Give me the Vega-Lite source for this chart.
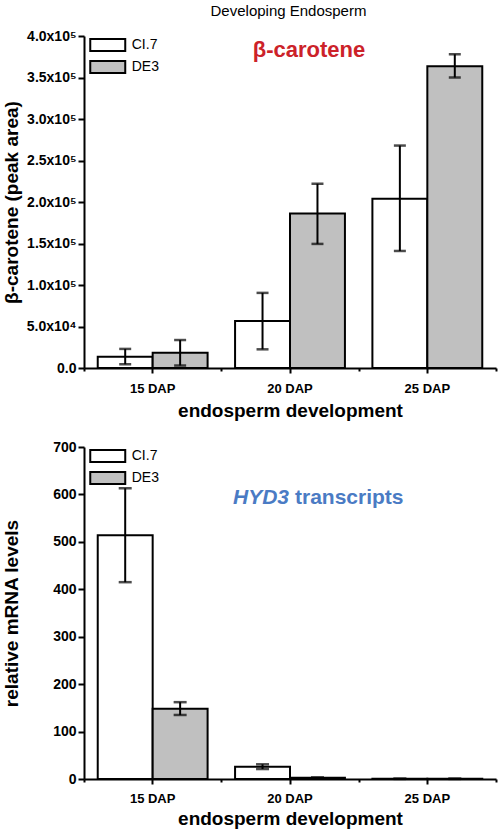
{
  "$schema": "https://vega.github.io/schema/vega-lite/v6.json",
  "background": "white",
  "padding": {"left": 2, "top": 4, "right": 2, "bottom": 2},
  "title": {"text": "Developing Endosperm", "font": "Liberation Sans", "fontSize": 15, "fontWeight": "normal", "color": "black", "anchor": "middle", "offset": 10, "dx": 39},
  "config": {
    "view": {"stroke": null},
    "font": "Liberation Sans",
    "axis": {"domainColor": "black", "domainWidth": 2, "tickColor": "black", "tickWidth": 2, "labelFont": "Liberation Sans", "labelFontWeight": "bold", "labelFontSize": 13, "labelColor": "black", "titleFont": "Liberation Sans", "titleFontWeight": "bold", "titleColor": "black", "grid": false}
  },
  "spacing": 20,
  "resolve": {"scale": {"fill": "independent", "y": "independent"}, "legend": {"fill": "independent"}},
  "vconcat": [
    {
      "width": 412, "height": 332,
      "data": {"values": [
        {"stage": "15 DAP", "line": "CI.7", "value": 13500, "lo": 4500, "hi": 23000},
        {"stage": "15 DAP", "line": "DE3", "value": 18500, "lo": 3000, "hi": 33700},
        {"stage": "20 DAP", "line": "CI.7", "value": 56500, "lo": 22500, "hi": 90500},
        {"stage": "20 DAP", "line": "DE3", "value": 186000, "lo": 149500, "hi": 222000},
        {"stage": "25 DAP", "line": "CI.7", "value": 204000, "lo": 141000, "hi": 268000},
        {"stage": "25 DAP", "line": "DE3", "value": 363500, "lo": 350000, "hi": 378000}
      ]},
      "resolve": {"axis": {"x": "independent"}},
      "layer": [
        {
          "mark": {"type": "bar", "stroke": "black", "strokeWidth": 2},
          "encoding": {
            "x": {"field": "stage", "type": "nominal", "scale": {"domain": ["15 DAP", "20 DAP", "25 DAP"], "paddingInner": 0, "paddingOuter": 0},
                  "axis": {"labelAngle": 0, "tickSize": 5, "labelPadding": 9, "title": "endosperm development", "titleFontSize": 19, "titlePadding": 6}},
            "xOffset": {"field": "line", "type": "nominal", "scale": {"domain": ["CI.7", "DE3"], "paddingInner": 0, "paddingOuter": 0.25}},
            "y": {"field": "value", "type": "quantitative", "scale": {"domain": [0, 400000], "nice": false},
                  "axis": {"title": "β-carotene (peak area)", "titleFontSize": 19, "titleX": -73, "titleBaseline": "middle", "labelFontSize": 14,
                           "values": [0, 25000, 50000, 75000, 100000, 125000, 150000, 175000, 200000, 225000, 250000, 275000, 300000, 325000, 350000, 375000, 400000],
                           "labelExpr": "datum.value % 50000 !== 0 ? '' : datum.value === 0 ? '0.0' : datum.value < 100000 ? format(datum.value / 10000, '.1f') + 'x10⁴' : format(datum.value / 100000, '.1f') + 'x10⁵'",
                           "tickSize": {"condition": {"test": "datum.value % 50000 === 0", "value": 6}, "value": 3},
                           "labelPadding": 2}},
            "fill": {"field": "line", "type": "nominal", "scale": {"domain": ["CI.7", "DE3"], "range": ["white", "#c0c0c0"]},
                     "legend": {"title": null, "orient": "none", "legendX": 13.75, "legendY": -1, "padding": 0,
                                "symbolType": "M-2,-0.7H2V0.7H-2Z", "symbolSize": 306, "symbolStrokeColor": "black", "symbolStrokeWidth": 2,
                                "labelOffset": 14, "rowPadding": 0, "labelFont": "Liberation Sans", "labelFontSize": 14, "labelColor": "black"}}
          }
        },
        {
          "mark": {"type": "rule", "color": "black", "strokeWidth": 2},
          "encoding": {
            "x": {"field": "stage", "type": "nominal", "axis": {"tickBand": "extent", "labels": false, "domain": false, "title": null, "tickSize": 3, "orient": "bottom"}},
            "xOffset": {"field": "line", "type": "nominal"},
            "y": {"field": "lo", "type": "quantitative"},
            "y2": {"field": "hi"}
          }
        },
        {
          "mark": {"type": "tick", "color": "black", "size": 12, "thickness": 2.5, "orient": "horizontal"},
          "encoding": {
            "x": {"field": "stage", "type": "nominal", "axis": null},
            "xOffset": {"field": "line", "type": "nominal"},
            "y": {"field": "lo", "type": "quantitative"}
          }
        },
        {
          "mark": {"type": "tick", "color": "black", "size": 12, "thickness": 2.5, "orient": "horizontal"},
          "encoding": {
            "x": {"field": "stage", "type": "nominal", "axis": null},
            "xOffset": {"field": "line", "type": "nominal"},
            "y": {"field": "hi", "type": "quantitative"}
          }
        },
        {
          "data": {"values": [{"label": "β-carotene"}]},
          "mark": {"type": "text", "color": "#cc2229", "font": "Liberation Sans", "fontWeight": "bold", "fontSize": 22, "align": "center", "baseline": "alphabetic", "dx": 19},
          "encoding": {
            "x": {"datum": "20 DAP", "type": "nominal", "axis": null},
            "y": {"datum": 375000, "type": "quantitative"},
            "text": {"field": "label"}
          }
        }
      ]
    },
    {
      "width": 412, "height": 332,
      "data": {"values": [
        {"stage": "15 DAP", "line": "CI.7", "value": 514, "lo": 415, "hi": 613},
        {"stage": "15 DAP", "line": "DE3", "value": 148, "lo": 135, "hi": 162},
        {"stage": "20 DAP", "line": "CI.7", "value": 26, "lo": 21, "hi": 31},
        {"stage": "20 DAP", "line": "DE3", "value": 2.5, "lo": 1.5, "hi": 3.5},
        {"stage": "25 DAP", "line": "CI.7", "value": 0.4, "lo": 0.4, "hi": 0.4},
        {"stage": "25 DAP", "line": "DE3", "value": 0.4, "lo": 0.4, "hi": 0.4}
      ]},
      "resolve": {"axis": {"x": "independent"}},
      "layer": [
        {
          "mark": {"type": "bar", "stroke": "black", "strokeWidth": 2},
          "encoding": {
            "x": {"field": "stage", "type": "nominal", "scale": {"domain": ["15 DAP", "20 DAP", "25 DAP"], "paddingInner": 0, "paddingOuter": 0},
                  "axis": {"labelAngle": 0, "tickSize": 5, "labelPadding": 8, "title": "endosperm development", "titleFontSize": 19, "titlePadding": 4}},
            "xOffset": {"field": "line", "type": "nominal", "scale": {"domain": ["CI.7", "DE3"], "paddingInner": 0, "paddingOuter": 0.25}},
            "y": {"field": "value", "type": "quantitative", "scale": {"domain": [0, 700], "nice": false},
                  "axis": {"title": "relative mRNA levels", "titleFontSize": 19, "titleX": -73, "titleBaseline": "middle", "labelFontSize": 14,
                           "values": [0, 50, 100, 150, 200, 250, 300, 350, 400, 450, 500, 550, 600, 650, 700],
                           "labelExpr": "datum.value % 100 !== 0 ? '' : format(datum.value, 'd')",
                           "tickSize": {"condition": {"test": "datum.value % 100 === 0", "value": 6}, "value": 3},
                           "labelPadding": 2}},
            "fill": {"field": "line", "type": "nominal", "scale": {"domain": ["CI.7", "DE3"], "range": ["white", "#c0c0c0"]},
                     "legend": {"title": null, "orient": "none", "legendX": 13.75, "legendY": -1, "padding": 0,
                                "symbolType": "M-2,-0.7H2V0.7H-2Z", "symbolSize": 306, "symbolStrokeColor": "black", "symbolStrokeWidth": 2,
                                "labelOffset": 14, "rowPadding": 0, "labelFont": "Liberation Sans", "labelFontSize": 14, "labelColor": "black"}}
          }
        },
        {
          "mark": {"type": "rule", "color": "black", "strokeWidth": 2},
          "encoding": {
            "x": {"field": "stage", "type": "nominal", "axis": {"tickBand": "extent", "labels": false, "domain": false, "title": null, "tickSize": 3, "orient": "bottom"}},
            "xOffset": {"field": "line", "type": "nominal"},
            "y": {"field": "lo", "type": "quantitative"},
            "y2": {"field": "hi"}
          }
        },
        {
          "mark": {"type": "tick", "color": "black", "size": 13, "thickness": 2.5, "orient": "horizontal"},
          "encoding": {
            "x": {"field": "stage", "type": "nominal", "axis": null},
            "xOffset": {"field": "line", "type": "nominal"},
            "y": {"field": "lo", "type": "quantitative"}
          }
        },
        {
          "mark": {"type": "tick", "color": "black", "size": 13, "thickness": 2.5, "orient": "horizontal"},
          "encoding": {
            "x": {"field": "stage", "type": "nominal", "axis": null},
            "xOffset": {"field": "line", "type": "nominal"},
            "y": {"field": "hi", "type": "quantitative"}
          }
        },
        {
          "data": {"values": [{"label": "HYD3"}]},
          "mark": {"type": "text", "color": "#4a7bc4", "font": "Liberation Sans", "fontWeight": "bold", "fontStyle": "italic", "fontSize": 21, "align": "right", "baseline": "alphabetic", "dx": -1},
          "encoding": {
            "x": {"datum": "20 DAP", "type": "nominal", "axis": null},
            "y": {"datum": 580, "type": "quantitative"},
            "text": {"field": "label"}
          }
        },
        {
          "data": {"values": [{"label": "transcripts"}]},
          "mark": {"type": "text", "color": "#4a7bc4", "font": "Liberation Sans", "fontWeight": "bold", "fontSize": 21, "align": "left", "baseline": "alphabetic", "dx": 5},
          "encoding": {
            "x": {"datum": "20 DAP", "type": "nominal", "axis": null},
            "y": {"datum": 580, "type": "quantitative"},
            "text": {"field": "label"}
          }
        }
      ]
    }
  ]
}
